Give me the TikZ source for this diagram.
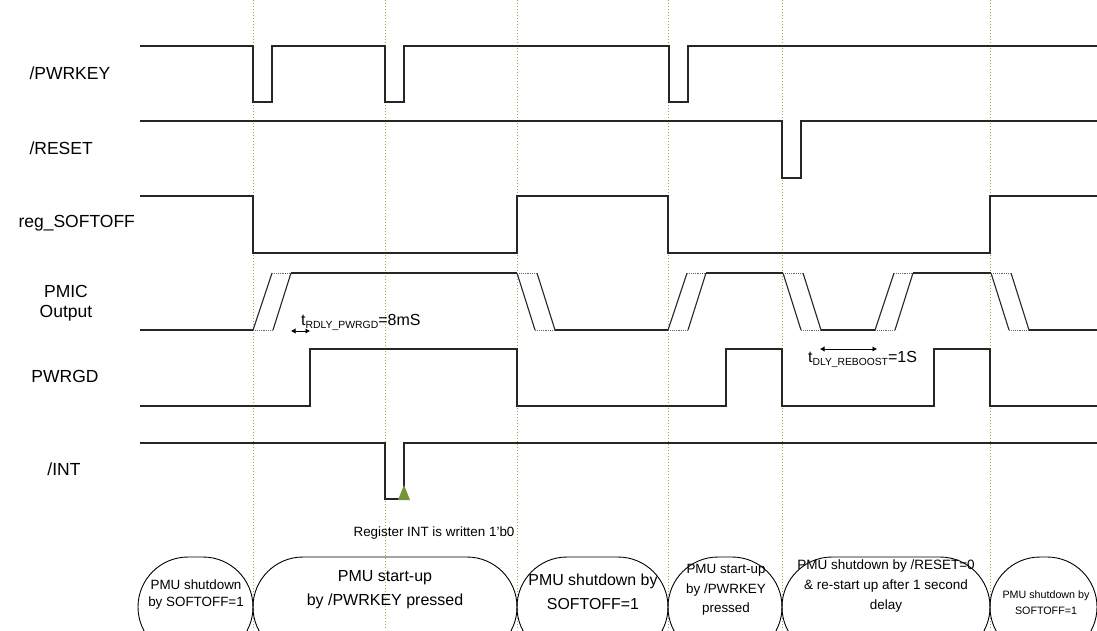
\documentclass[tikz,border=0pt]{standalone}
\usepackage{fontspec}
\setmainfont{Liberation Sans}
\usepackage{xcolor}
\usetikzlibrary{arrows.meta}
\usetikzlibrary{positioning}

\definecolor{guidegreen}{RGB}{140,178,70}
\definecolor{markgreen}{RGB}{119,147,60}

\tikzset{
  wave/.style={line width=1.1pt, black!85},
  ramp/.style={line width=0.9pt, black!60, densely dotted},
  guide/.style={line width=1pt, guidegreen, dotted},
  bubble/.style={line width=0.9pt, black, rounded corners=50pt},
  signame/.style={font=\fontsize{17.5}{21}\selectfont, align=center},
  dblarrow/.style={line width=1pt, {Latex[length=4.5pt,width=5.5pt]}-{Latex[length=4.5pt,width=5.5pt]}}
}

\begin{document}
\begin{tikzpicture}[x=1pt, y=-1pt]
  \clip (0,0) rectangle (1097,630);
  \fill[white] (0,0) rectangle (1097,630);
  % draw guide lines
  \foreach \gx in {253,385,517,668,782,990}
    \draw[guide] (\gx,0) -- (\gx,630);
  % signal names
  \node[signame, anchor=west] (pwrkey) at (26,73) {/PWRKEY};
  \node[signame, anchor=west] (reset) at (26,148) {/RESET};
  \node[signame, anchor=west] (softoff) at (15,223) {reg\_SOFTOFF};
  \node[signame] (pmic) at (66,303) {PMIC\\[-1pt]Output};
  \node[signame] (pwrgd) at (65,376) {PWRGD};
  \node[signame] (int) at (64,469) {/INT};
  % draw /PWRKEY
  \draw[wave] (140,46) -- (253,46) -- (253,102) -- (272,102) -- (272,46) -- (385,46)
    -- (385,102) -- (404,102) -- (404,46) -- (669,46) -- (669,102) -- (688,102)
    -- (688,46) -- (1097,46);
  % draw /RESET
  \draw[wave] (140,121) -- (782,121) -- (782,178) -- (801,178) -- (801,121) -- (1097,121);
  % draw reg_SOFTOFF
  \draw[wave] (140,196) -- (253,196) -- (253,253) -- (517,253) -- (517,196) -- (668,196)
    -- (668,253) -- (990,253) -- (990,196) -- (1097,196);
  % draw PMIC output
  \foreach \rx in {253,668,875} {
    \draw[wave] (\rx,330) -- ({\rx+19},273);
    \draw[wave] ({\rx+20},330) -- ({\rx+38},273);
    \draw[ramp] (\rx,330) -- ({\rx+20},330);
    \draw[ramp] ({\rx+19},273) -- ({\rx+38},273);
  }
  \foreach \fx in {517,783,991} {
    \draw[wave] (\fx,273) -- ({\fx+18},330);
    \draw[wave] ({\fx+20},273) -- ({\fx+38},330);
    \draw[ramp] (\fx,273) -- ({\fx+20},273);
    \draw[ramp] ({\fx+18},330) -- ({\fx+38},330);
  }
  \draw[wave] (140,330) -- (253,330);
  \draw[wave] (291,273) -- (517,273);
  \draw[wave] (555,330) -- (668,330);
  \draw[wave] (706,273) -- (783,273);
  \draw[wave] (821,330) -- (875,330);
  \draw[wave] (913,273) -- (991,273);
  \draw[wave] (1029,330) -- (1097,330);
  % draw PWRGD
  \draw[wave] (140,406) -- (310,406) -- (310,349) -- (517,349) -- (517,406) -- (726,406)
    -- (726,349) -- (782,349) -- (782,406) -- (934,406) -- (934,349) -- (990,349)
    -- (990,406) -- (1097,406);
  % draw /INT
  \draw[wave] (140,443) -- (385,443) -- (385,499) -- (404,499) -- (404,443) -- (1097,443);
  \fill[markgreen] (398,500) -- (410,500) -- (404,485) -- cycle;
  \node[anchor=base, font=\fontsize{13.4}{16}\selectfont] (regint) at (434,536) {Register INT is written 1'b0};
  % timing annotations
  \coordinate (rdlyL) at (291,331);
  \coordinate (rdlyR) at (310,331);
  \draw[dblarrow] (rdlyL) -- (rdlyR);
  \node[anchor=base west, inner sep=0pt, font=\fontsize{16}{18}\selectfont] (trdly) at (301,325)
    {t\raisebox{-3pt}{\fontsize{10.4}{12}\selectfont RDLY\_PWRGD}=8mS};
  \coordinate (rebL) at (820,349);
  \coordinate (rebR) at (877,349);
  \draw[dblarrow] (rebL) -- (rebR);
  \node[anchor=base west, inner sep=0pt, font=\fontsize{16}{18}\selectfont] (treboost) at (808,362)
    {t\raisebox{-3.5pt}{\fontsize{10.3}{12}\selectfont DLY\_REBOOST}=1S};
  % draw state bubbles
  \draw[bubble] (138,557) rectangle (253,657);
  \draw[bubble] (253,557) rectangle (517,657);
  \draw[bubble] (517,557) rectangle (668,657);
  \draw[bubble] (668,557) rectangle (782,657);
  \draw[bubble] (782,557) rectangle (990,657);
  \draw[bubble] (990,557) rectangle (1097,657);
  \node[align=center, font=\fontsize{13.4}{17}\selectfont] (st1) at (196,595) {PMU shutdown\\by SOFTOFF=1};
  \node[align=center, font=\fontsize{16}{24}\selectfont] (st2) at (385,590) {PMU start-up\\by /PWRKEY pressed};
  \node[align=center, font=\fontsize{15.9}{24}\selectfont] (st3) at (593,592) {PMU shutdown by\\SOFTOFF=1};
  \node[align=center, font=\fontsize{13.4}{19.5}\selectfont] (st4) at (726,590) {PMU start-up\\by /PWRKEY\\pressed};
  \node[align=center, font=\fontsize{13.5}{20}\selectfont] (st5) at (886,586) {PMU shutdown by /RESET=0\\\& re-start up after 1 second\\delay};
  \node[align=center, font=\fontsize{10.7}{16}\selectfont] (st6) at (1046,603) {PMU shutdown by\\SOFTOFF=1};
\end{tikzpicture}
\end{document}
